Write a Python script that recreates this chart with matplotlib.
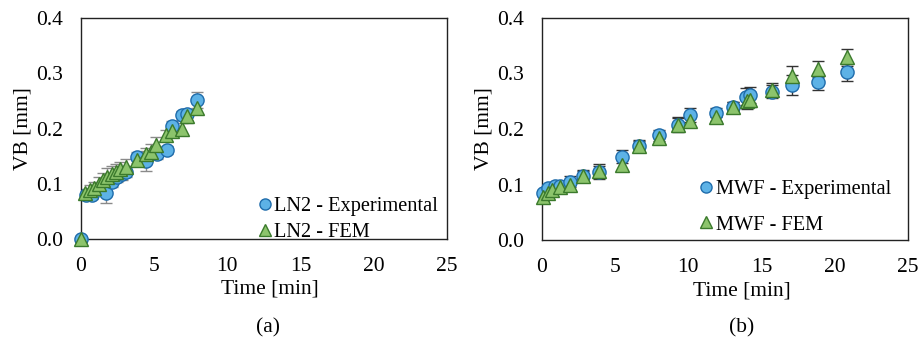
import matplotlib
matplotlib.use('Agg')
import matplotlib.pyplot as plt
from matplotlib.lines import Line2D

plt.rcParams['font.family'] = ['Liberation Serif', 'DejaVu Serif']

# === DATA ===
# (a) LN2
ln2_exp_t = [0, 0.33, 0.73, 1.72, 2.1, 2.44, 2.8, 3.1, 3.8, 4.45, 5.17, 5.85, 6.2, 6.88, 7.22, 7.9]
ln2_exp_vb = [0.0, 0.080, 0.080, 0.083, 0.104, 0.113, 0.117, 0.122, 0.148, 0.142, 0.154, 0.161, 0.205, 0.224, 0.226, 0.252]
ln2_exp_err = [0.0, 0.006, 0.008, 0.018, 0.010, 0.010, 0.010, 0.010, 0.010, 0.018, 0.010, 0.008, 0.008, 0.008, 0.010, 0.015]

ln2_fem_t = [0, 0.3, 0.6, 0.9, 1.2, 1.5, 1.8, 2.1, 2.4, 2.7, 3.05, 3.8, 4.45, 4.8, 5.15, 5.8, 6.2, 6.88, 7.22, 7.9]
ln2_fem_vb = [0.0, 0.083, 0.088, 0.092, 0.100, 0.106, 0.112, 0.117, 0.122, 0.126, 0.131, 0.143, 0.153, 0.158, 0.170, 0.188, 0.195, 0.200, 0.222, 0.238]
ln2_fem_err = [0.0, 0.008, 0.010, 0.012, 0.012, 0.014, 0.016, 0.016, 0.014, 0.014, 0.014, 0.010, 0.012, 0.014, 0.014, 0.010, 0.010, 0.010, 0.012, 0.012]

# (b) MWF
mwf_exp_t = [0.09, 0.43, 0.89, 1.2, 1.91, 2.82, 3.92, 5.49, 6.63, 8.02, 9.32, 10.1, 11.9, 13.07, 13.93, 14.2, 15.69, 17.06, 18.88, 20.86]
mwf_exp_vb = [0.084, 0.094, 0.097, 0.097, 0.105, 0.115, 0.122, 0.150, 0.169, 0.189, 0.208, 0.225, 0.229, 0.240, 0.258, 0.261, 0.267, 0.279, 0.285, 0.302]
mwf_exp_err = [0.006, 0.006, 0.006, 0.006, 0.010, 0.010, 0.012, 0.012, 0.010, 0.010, 0.012, 0.012, 0.008, 0.008, 0.015, 0.015, 0.012, 0.018, 0.014, 0.016]

mwf_fem_t = [0.09, 0.4, 0.7, 1.2, 1.91, 2.82, 3.92, 5.49, 6.63, 8.02, 9.32, 10.1, 11.9, 13.07, 14.0, 14.2, 15.69, 17.06, 18.88, 20.86]
mwf_fem_vb = [0.077, 0.084, 0.090, 0.095, 0.099, 0.116, 0.125, 0.136, 0.170, 0.183, 0.208, 0.214, 0.222, 0.240, 0.250, 0.253, 0.271, 0.296, 0.308, 0.329]
mwf_fem_err = [0.006, 0.006, 0.006, 0.006, 0.008, 0.010, 0.012, 0.012, 0.010, 0.010, 0.014, 0.010, 0.008, 0.008, 0.014, 0.014, 0.012, 0.018, 0.014, 0.016]

x_ticks = [0, 5, 10, 15, 20, 25]
y_ticks = [0.0, 0.1, 0.2, 0.3, 0.4]

# === STYLE ===
BLUE_FILL = '#5db2e6'
BLUE_EDGE = '#1f6cab'
GREEN_FILL = '#8cc46c'
GREEN_EDGE = '#3b7a2c'
FS = 15.5
LEG_FS = 14.7

fig = plt.figure(figsize=(9.19, 3.48), dpi=100)
ax1 = fig.add_axes([0.0881, 0.3132, 0.398, 0.635])
ax2 = fig.add_axes([0.5898, 0.3103, 0.398, 0.638])


def draw(ax, et, ev, ee, ft, fv, fe, err_col, labels, leg_pos, spacing, xlab_x):
    ax.errorbar(ft, fv, yerr=fe, fmt='none', ecolor=err_col, elinewidth=1.0,
                capsize=4, capthick=1.0, zorder=2)
    ax.errorbar(et, ev, yerr=ee, fmt='none', ecolor=err_col, elinewidth=1.0,
                capsize=4, capthick=1.0, zorder=2)
    ax.plot(et, ev, 'o', ms=9.5, mfc=BLUE_FILL, mec=BLUE_EDGE, mew=1.0, ls='none',
            zorder=3, clip_on=False)
    ax.plot(ft, fv, '^', ms=9.5, mfc=GREEN_FILL, mec=GREEN_EDGE, mew=1.0, ls='none',
            zorder=4, clip_on=False)

    ax.set_xlim(0, 25)
    ax.set_ylim(0, 0.4)
    ax.set_xticks(x_ticks)
    ax.set_yticks(y_ticks)
    ax.set_yticklabels(['%.1f' % v for v in y_ticks])
    ax.tick_params(length=0, labelsize=FS, pad=13)
    for s in ax.spines.values():
        s.set_linewidth(1.0)
        s.set_color('#222222')
    ax.set_xlabel('Time [min]', fontsize=FS, labelpad=0)
    ax.xaxis.set_label_coords(xlab_x, -0.228)
    ax.xaxis.label.set_va('center')
    ax.set_ylabel('VB [mm]', fontsize=FS, labelpad=2.5)

    handles = [
        Line2D([], [], marker='o', ls='none', ms=8, mfc=BLUE_FILL, mec=BLUE_EDGE, mew=1.0),
        Line2D([], [], marker='^', ls='none', ms=8, mfc=GREEN_FILL, mec=GREEN_EDGE, mew=1.0),
    ]
    ax.legend(handles, labels, loc='lower right', bbox_to_anchor=leg_pos, frameon=False,
              fontsize=LEG_FS, handlelength=0.6, handletextpad=0.15, labelspacing=spacing,
              borderaxespad=0)


draw(ax1, ln2_exp_t, ln2_exp_vb, ln2_exp_err, ln2_fem_t, ln2_fem_vb, ln2_fem_err,
     '#8a8a8a', ['LN2 - Experimental', 'LN2 - FEM'], (0.999, -0.05), 0.3, 0.516)
draw(ax2, mwf_exp_t, mwf_exp_vb, mwf_exp_err, mwf_fem_t, mwf_fem_vb, mwf_fem_err,
     '#333333', ['MWF - Experimental', 'MWF - FEM'], (0.976, -0.012), 0.8, 0.546)

fig.text(0.292, 0.057, '(a)', ha='center', va='center', fontsize=FS)
fig.text(0.807, 0.057, '(b)', ha='center', va='center', fontsize=FS)

fig.savefig('out.png', dpi=100)
